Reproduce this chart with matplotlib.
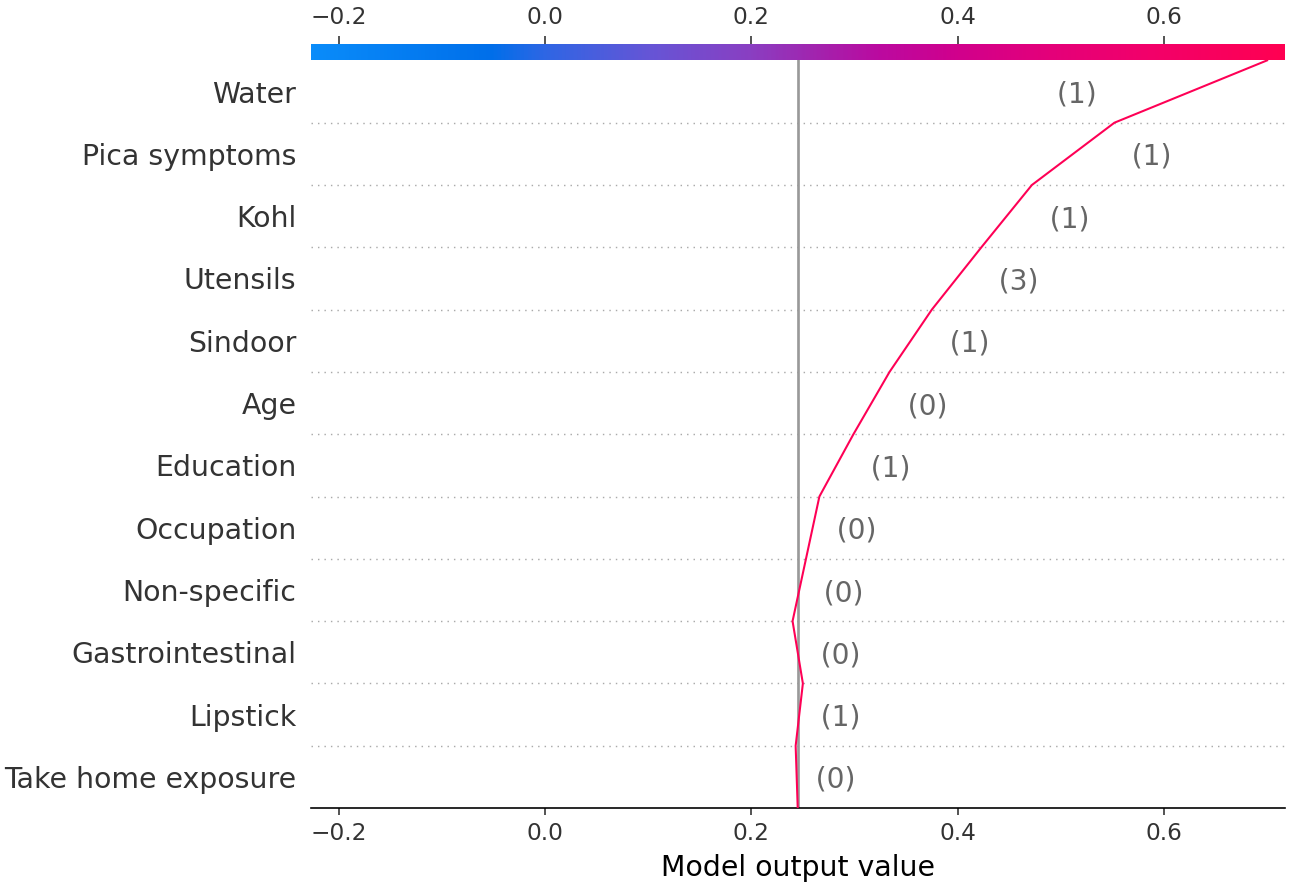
import numpy as np
import matplotlib
matplotlib.use("Agg")
import matplotlib.pyplot as plt
from matplotlib.colors import LinearSegmentedColormap, Normalize

# SHAP-style decision plot for a single observation

# features listed top -> bottom, with the observed feature values
features = ["Water", "Pica symptoms", "Kohl", "Utensils", "Sindoor", "Age",
            "Education", "Occupation", "Non-specific", "Gastrointestinal",
            "Lipstick", "Take home exposure"]
feature_values = ["1", "1", "1", "3", "1", "0", "1", "0", "0", "0", "1", "0"]
shap_values = [0.148, 0.080, 0.049, 0.048, 0.041, 0.035,
               0.033, 0.013, 0.013, -0.010, 0.007, -0.002]
base_value = 0.245

xlim = (-0.227, 0.717)
xticks = [-0.2, 0.0, 0.2, 0.4, 0.6]

# approximate shap red_blue colormap
red_blue = LinearSegmentedColormap.from_list("red_blue", [
    (0.000, "#0a8cfa"), (0.184, "#006fea"), (0.240, "#2f66e4"),
    (0.348, "#6655d6"), (0.451, "#8a3fc2"), (0.523, "#a422ad"),
    (0.584, "#bb0aa0"), (0.666, "#d1008c"), (0.759, "#e4007a"),
    (0.861, "#f2006a"), (1.000, "#ff0052")])

n = len(features)
# cumulative output, bottom (y=0) -> top (y=n)
contrib_bottom_up = np.array(shap_values[::-1])
cumsum = np.concatenate([[base_value], base_value + np.cumsum(contrib_bottom_up)])
y = np.arange(n + 1)

fig = plt.figure(figsize=(8.75, 6.0), dpi=148)
ax = fig.add_axes([0.240, 0.090, 0.752, 0.842])

# dotted row separators
for i in range(1, n):
    ax.axhline(i, color="#aaaaaa", linestyle=(0, (1, 3.5)), linewidth=0.7, zorder=1)

ax.axvline(base_value, color="#999999", linewidth=1.3, zorder=2)

norm = Normalize(*xlim)
line_color = red_blue(norm(cumsum[-1]))
ax.plot(cumsum, y, color=line_color, linewidth=1.0, zorder=3)

ax.set_xlim(xlim)
ax.set_ylim(0, n)
ax.set_yticks(np.arange(n) + 0.5)
ax.set_yticklabels(features[::-1], fontsize=13.8, color="#333333")
ax.tick_params(axis="y", length=0, pad=7)
ax.set_xticks(xticks)
ax.tick_params(axis="x", labelsize=11.3, colors="#333333")
ax.set_xlabel("Model output value", fontsize=13.8, color="#000000")
for s in ["left", "right", "top"]:
    ax.spines[s].set_visible(False)

# feature value labels
vals_bottom_up = feature_values[::-1]
renderer = fig.canvas.get_renderer()
inv = ax.transData.inverted()
for i in range(n):
    v = "(" + vals_bottom_up[i] + ")"
    seg = cumsum[i:i + 2]
    t = ax.text(seg.max(), i + 0.5, "  " + v, fontsize=13.6, color="#666666",
                ha="left", va="center_baseline")
    bb = inv.transform_bbox(t.get_window_extent(renderer=renderer))
    if bb.xmax > xlim[1]:
        t.set_text(v + "  ")
        t.set_x(seg.min())
        t.set_ha("right")

# colorbar on top
cax = fig.add_axes([0.240, 0.932, 0.752, 0.018])
grad = np.linspace(0, 1, 512).reshape(1, -1)
cax.imshow(grad, aspect="auto", cmap=red_blue, extent=[xlim[0], xlim[1], 0, 1])
cax.set_xlim(xlim)
cax.set_yticks([])
cax.xaxis.tick_top()
cax.set_xticks(xticks)
cax.tick_params(axis="x", labelsize=11.3, colors="#333333", length=4)
for s in cax.spines.values():
    s.set_visible(False)

fig.savefig("out.png", dpi=148)
